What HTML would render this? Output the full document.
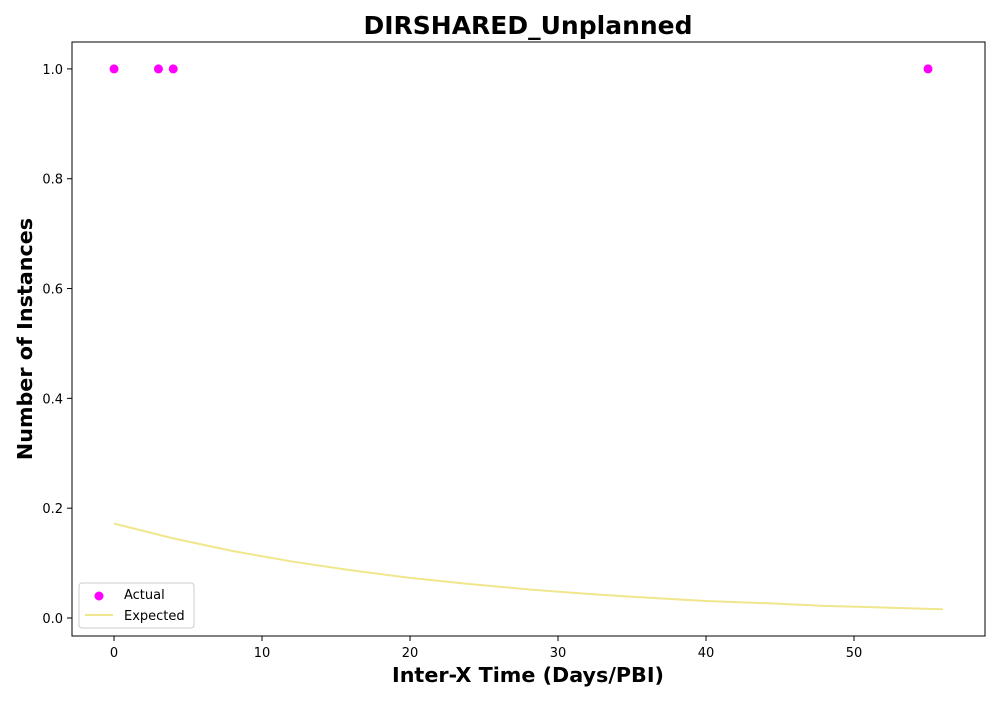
<!DOCTYPE html>
<html><head><meta charset="utf-8"><style>
body{margin:0;background:#fff;font-family:"DejaVu Sans","Liberation Sans",sans-serif}
svg text{font-family:"DejaVu Sans","Liberation Sans",sans-serif}
</style></head><body>
<svg id="chart" width="1000" height="700" xmlns="http://www.w3.org/2000/svg">
<rect width="1000" height="700" fill="#fff"/>
<text x="528" y="34" text-anchor="middle" font-size="25" font-weight="bold">DIRSHARED_Unplanned</text>
<g id="plot"></g>
<rect x="72" y="42" width="913" height="594" fill="none" stroke="#000" stroke-width="1"/>
<text x="528" y="682" text-anchor="middle" font-size="20.7" font-weight="bold">Inter-X Time (Days/PBI)</text>
<text transform="translate(32,339) rotate(-90)" text-anchor="middle" font-size="20.7" font-weight="bold">Number of Instances</text>
<g>
<rect x="79" y="583" width="115" height="45" rx="3" fill="#fff" stroke="#ccc"/>
<circle cx="99" cy="596" r="4.5" fill="#ff00ff"/>
<text x="124" y="599" font-size="13">Actual</text>
<line x1="85" y1="615" x2="113" y2="615" stroke="#f0e68c" stroke-width="2"/>
<text x="124" y="620" font-size="13">Expected</text>
</g>
</svg>
<script>
const actualX=[0,3,4,55];
const actualY=[1,1,1,1];
const expectedX=[0,4,8,12,16,20,24,28,32,36,40,44,48,52,56];
const expectedY=[0.172,0.145,0.122,0.103,0.087,0.073,0.062,0.052,0.044,0.037,0.031,0.027,0.022,0.019,0.016];
const xTicks=[0,10,20,30,40,50];
const yTicks=[0.0,0.2,0.4,0.6,0.8,1.0];
const NS="http://www.w3.org/2000/svg";
const X0=72,X1=985,Y0=636,Y1=42,xmin=-2.84,xmax=58.85,ymin=-0.0328,ymax=1.049;
const sx=v=>X0+(v-xmin)/(xmax-xmin)*(X1-X0);
const sy=v=>Y0-(v-ymin)/(ymax-ymin)*(Y0-Y1);
const g=document.getElementById('plot');
function mk(t,a){const e=document.createElementNS(NS,t);for(const k in a)e.setAttribute(k,a[k]);g.appendChild(e);return e;}
xTicks.forEach(v=>{
 const l=mk('line',{x1:sx(v),x2:sx(v),y1:636,y2:641,stroke:'#000'});
 
 
 const t=mk('text',{x:sx(v),y:657,'text-anchor':'middle','font-size':13});
 t.textContent=v;
 
 
});
yTicks.forEach(v=>{
 const l=mk('line',{x1:67,x2:72,y1:sy(v),y2:sy(v),stroke:'#000'});
 
 
 const t=mk('text',{x:63,y:sy(v)+5,'text-anchor':'end','font-size':13});
 t.textContent=v.toFixed(1);
 
 
});
const p=mk('polyline',{points:expectedX.map((x,i)=>sx(x)+','+sy(expectedY[i])).join(' '),fill:'none',stroke:'#f0e68c','stroke-width':2});


actualX.forEach((x,i)=>{
 const c=mk('circle',{cx:sx(x),cy:sy(actualY[i]),r:4.5,fill:'#ff00ff'});
 
 
});
</script>
</body></html>
